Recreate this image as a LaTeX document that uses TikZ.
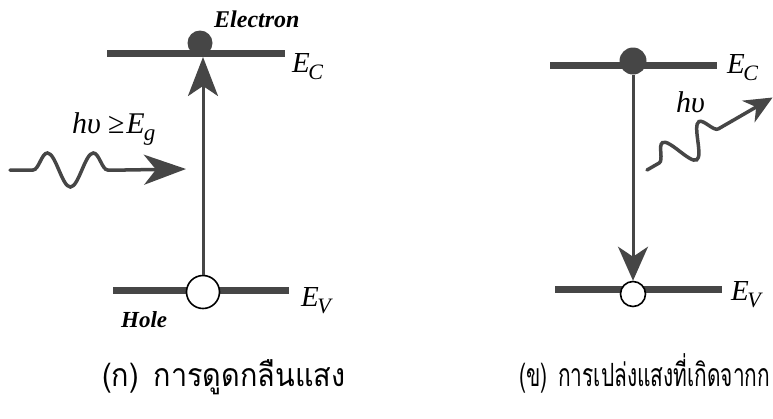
\documentclass[tikz,border=0pt]{standalone}
\usepackage{fontspec}
\usepackage{graphicx}
\setmainfont{Liberation Serif}
\newfontfamily\thaifont[Script=Thai,FakeStretch=0.9]{Loma}
\usetikzlibrary{arrows.meta,decorations.pathmorphing}
\definecolor{ink}{RGB}{70,70,70}
\newcommand{\lvlname}[1]{{\fontsize{29}{29}\selectfont\itshape E\kern-1.5pt\raisebox{-7pt}{\fontsize{22}{22}\selectfont #1}}}
\begin{document}
\begin{tikzpicture}[x=1pt,y=-1pt,
  level/.style={line width=7pt, draw=ink},
  vline/.style={line width=3pt, draw=ink},
  wave/.style={line width=3.5pt, draw=ink, line cap=round},
  electron/.style={circle, fill=ink, inner sep=0pt},
  hole/.style={circle, draw=black, fill=white, line width=1.6pt, inner sep=0pt},
  lbl/.style={inner sep=0pt, anchor=base west},
  tag/.style={lbl, font=\fontsize{24}{24}\selectfont\bfseries\itshape},
  photon/.style={lbl, font=\fontsize{30}{30}\selectfont\itshape},
  thaicap/.style={lbl, font=\thaifont\fontsize{32}{36}\selectfont}]
\useasboundingbox (0,0) rectangle (773,418);
\clip (0,0) rectangle (773,418);
% ---------- left panel: absorption ----------
\coordinate (ecLa) at (107,53);
\coordinate (ecLb) at (285,53);
\draw[level] (ecLa) -- (ecLb);
\node[electron, minimum size=25pt] (eL) at (200,43) {};
\coordinate (evLa) at (113,290);
\coordinate (evLb) at (289,290);
\draw[level] (evLa) -- (evLb);
\node[hole, minimum size=33pt] (hL) at (203,292) {};
\coordinate (tipL) at (203,57);
\draw[vline, -{Stealth[length=39pt,width=30pt,inset=10pt]}] (hL.north) -- (tipL);
\coordinate (wLs) at (10,170);
\coordinate (wLm) at (125,170);
\coordinate (wLe) at (186,169);
\draw[wave, decorate, decoration={snake, amplitude=17pt, segment length=46pt, pre length=23pt, post length=0pt}] (wLs) -- (wLm);
\draw[wave, -{Stealth[length=42pt,width=30pt,inset=12pt]}] (wLm) -- (wLe);
\node[tag] (tEl) at (214,27) {Electron};
\node[tag, font=\fontsize{23}{23}\selectfont\bfseries\itshape] (tHo) at (121,327) {Hole};
\node[lbl] (tEcL) at (292,72) {\lvlname{C}};
\node[lbl] (tEvL) at (301,306) {\lvlname{V}};
\node[photon] (thvL) at (72,133) {hυ\kern7pt≥\kern2pt E\kern-1pt\raisebox{-7pt}{\fontsize{23}{23}\selectfont g}};
\node[thaicap] (capA) at (102,386) {(ก)\hspace{15pt}การดูดกลืนแสง};
% ---------- right panel: emission ----------
\coordinate (ecRa) at (550,65);
\coordinate (ecRb) at (717,65);
\draw[level] (ecRa) -- (ecRb);
\node[electron, minimum size=27pt] (eR) at (633,61) {};
\coordinate (evRa) at (555,289);
\coordinate (evRb) at (722,289);
\draw[level] (evRa) -- (evRb);
\node[hole, minimum size=25pt] (hR) at (633,294) {};
\draw[vline, -{Stealth[length=34pt,width=30pt,inset=10pt]}] (eR.south) -- (hR.north);
\coordinate (wRs) at (647,170);
\coordinate (wRm) at (732,121);
\coordinate (wRe) at (772.6,97.5);
\draw[wave, decorate, decoration={snake, amplitude=16pt, segment length=42pt, pre length=14pt, post length=0pt}] (wRs) -- (wRm);
\draw[wave, -{Stealth[length=28pt,width=25pt,inset=9pt]}] (wRm) -- (wRe);
\node[lbl] (tEcR) at (727,73) {\lvlname{C}};
\node[lbl] (tEvR) at (731,300) {\lvlname{V}};
\node[photon] (thvR) at (676,112) {hυ};
\node[thaicap] (capB) at (519,386) {\resizebox{251pt}{\height}{(ข)\hspace{15pt}การเปล่งแสงที่เกิดจากก}};
\end{tikzpicture}
\end{document}
